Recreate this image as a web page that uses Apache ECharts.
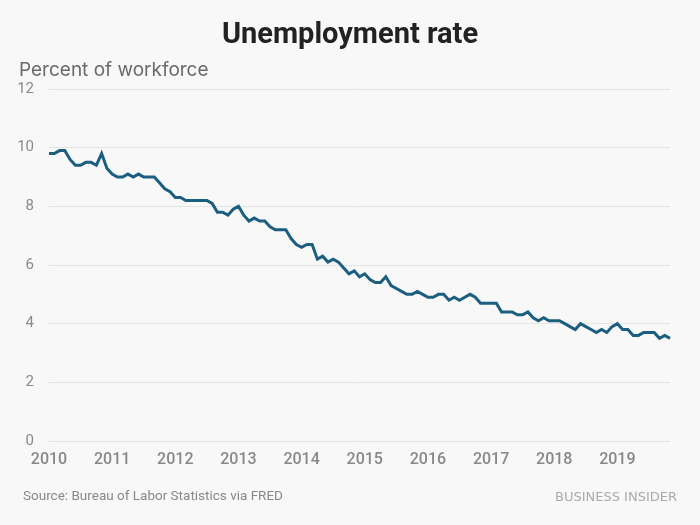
<!DOCTYPE html>
<html>
<head>
<meta charset="utf-8">
<script src="https://cdn.jsdelivr.net/npm/echarts@6/dist/echarts.min.js"></script>
<style>
html,body{margin:0;padding:0;background:#f8f8f8;}
#chart{width:700px;height:525px;}
</style>
</head>
<body>
<div id="chart"></div>
<script>
// Tick labels (years) and monthly unemployment rate, Jan 2010 - Nov 2019
var years = ['2010','2011','2012','2013','2014','2015','2016','2017','2018','2019'];
var rate2010 = [9.8, 9.8, 9.9, 9.9, 9.6, 9.4, 9.4, 9.5, 9.5, 9.4, 9.8, 9.3];
var rate2011 = [9.1, 9.0, 9.0, 9.1, 9.0, 9.1, 9.0, 9.0, 9.0, 8.8, 8.6, 8.5];
var rate2012 = [8.3, 8.3, 8.2, 8.2, 8.2, 8.2, 8.2, 8.1, 7.8, 7.8, 7.7, 7.9];
var rate2013 = [8.0, 7.7, 7.5, 7.6, 7.5, 7.5, 7.3, 7.2, 7.2, 7.2, 6.9, 6.7];
var rate2014 = [6.6, 6.7, 6.7, 6.2, 6.3, 6.1, 6.2, 6.1, 5.9, 5.7, 5.8, 5.6];
var rate2015 = [5.7, 5.5, 5.4, 5.4, 5.6, 5.3, 5.2, 5.1, 5.0, 5.0, 5.1, 5.0];
var rate2016 = [4.9, 4.9, 5.0, 5.0, 4.8, 4.9, 4.8, 4.9, 5.0, 4.9, 4.7, 4.7];
var rate2017 = [4.7, 4.7, 4.4, 4.4, 4.4, 4.3, 4.3, 4.4, 4.2, 4.1, 4.2, 4.1];
var rate2018 = [4.1, 4.1, 4.0, 3.9, 3.8, 4.0, 3.9, 3.8, 3.7, 3.8, 3.7, 3.9];
var rate2019 = [4.0, 3.8, 3.8, 3.6, 3.6, 3.7, 3.7, 3.7, 3.5, 3.6, 3.5];
var yTicks = [0, 2, 4, 6, 8, 10, 12];

var titleText = 'Unemployment rate';
var yAxisTitle = 'Percent of workforce';
var sourceText = 'Source: Bureau of Labor Statistics via FRED';
var brandText = 'BUSINESS INSIDER';

var allYears = [rate2010, rate2011, rate2012, rate2013, rate2014, rate2015, rate2016, rate2017, rate2018, rate2019];
var categories = [];
var values = [];
allYears.forEach(function (arr, yi) {
  arr.forEach(function (v, m) {
    categories.push(years[yi] + '-' + (m < 9 ? '0' : '') + (m + 1));
    values.push(v);
  });
});

var chart = echarts.init(document.getElementById('chart'), null, {renderer: 'canvas'});
var option = {
  backgroundColor: '#f8f8f8',
  animation: false,
  title: {
    text: titleText,
    left: 'center',
    top: 16,
    textStyle: {fontFamily: 'Roboto', fontWeight: 'bold', fontSize: 29, color: '#222222'}
  },
  grid: {left: 49, right: 30, top: 89, bottom: 84},
  xAxis: {
    type: 'category',
    data: categories,
    boundaryGap: false,
    axisLine: {show: false},
    axisTick: {show: false},
    splitLine: {show: false},
    axisLabel: {
      interval: function (index) { return index % 12 === 0; },
      formatter: function (val) { return val.slice(0, 4); },
      color: '#888888',
      fontFamily: 'Roboto',
      fontWeight: 500,
      fontSize: 16,
      margin: 11
    }
  },
  yAxis: {
    type: 'value',
    min: yTicks[0],
    max: yTicks[yTicks.length - 1],
    interval: yTicks[1] - yTicks[0],
    axisLine: {show: false},
    axisTick: {show: false},
    splitLine: {lineStyle: {color: '#e4e4e4', width: 1}},
    axisLabel: {
      color: '#8a8a8a',
      fontFamily: 'Roboto',
      fontSize: 15,
      margin: 15
    }
  },
  graphic: [
    {type: 'text', left: 19, top: 61, style: {text: yAxisTitle, fill: '#6a6a6a', font: '19px Inter'}},
    {type: 'text', left: 23, top: 490, style: {text: sourceText, fill: '#888888', font: '13.5px Roboto'}},
    {type: 'text', right: 23, top: 491, style: {text: brandText, fill: '#aaaaaa', font: '13px "DejaVu Sans"'}}
  ],
  series: [{
    type: 'line',
    data: values,
    showSymbol: false,
    symbol: 'none',
    lineStyle: {color: '#1b5e7f', width: 3, join: 'miter'},
    itemStyle: {color: '#1b5e7f'}
  }]
};
chart.setOption(option);
</script>
</body>
</html>
